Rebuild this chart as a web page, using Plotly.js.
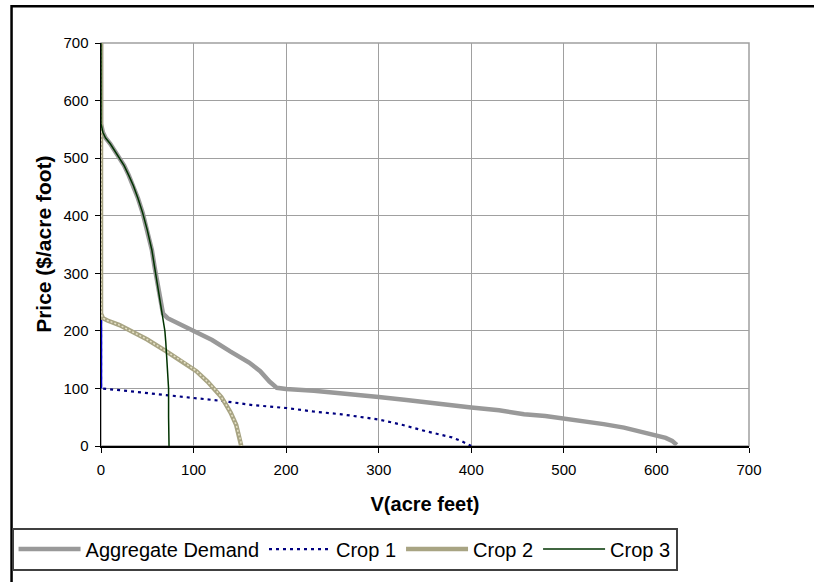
<!DOCTYPE html>
<html>
<head>
<meta charset="utf-8">
<script src="https://cdn.plot.ly/plotly-3.0.1.min.js"></script>
<style>
  html, body { margin: 0; padding: 0; background: #ffffff; }
  #chart { width: 814px; height: 582px; }
</style>
</head>
<body>
<div id="chart"></div>
<script>
// ---- Data ----
const xTickVals = [0, 100, 200, 300, 400, 500, 600, 700];
const yTickVals = [0, 100, 200, 300, 400, 500, 600, 700];

const aggV = [0, 0, 2, 5, 10, 15, 20, 25, 30, 35, 40, 45, 50, 55, 58, 61, 64, 67, 72, 85, 100, 120, 140, 160, 172, 182, 190, 200, 230, 260, 300, 330, 360, 400, 430, 457, 480, 500, 520, 543, 565, 586, 600, 610, 617, 622];
const aggP = [700, 560, 545, 535, 525, 512, 500, 487, 470, 452, 430, 405, 375, 340, 310, 280, 250, 230, 222, 212, 200, 184, 164, 145, 130, 112, 101, 99, 96, 92, 85, 80, 74, 67, 62, 55, 52, 48, 43, 38, 32, 24, 19, 14, 9, 2];

const crop1V = [0, 0, 20, 50, 70, 100, 132, 164, 200, 229, 260, 300, 325, 350, 379, 390, 398, 400];
const crop1P = [230, 100, 97, 92, 89, 84, 78, 71, 66, 60, 55, 46, 37, 26, 15, 8, 2, 0];

const crop2V = [0, 0, 2, 7, 20, 32, 50, 71, 90, 103, 115, 125, 130, 135, 140, 146, 149, 151, 151.5];
const crop2P = [700, 230, 222, 218, 210, 200, 185, 164, 145, 130, 112, 95, 85, 72, 58, 37, 20, 8, 0];

const crop3V = [0, 0, 0, 2, 5, 10, 15, 20, 25, 30, 35, 40, 45, 50, 55, 58, 61, 64, 66, 68, 69, 70, 71, 72, 73, 73, 73.5];
const crop3P = [700, 600, 560, 545, 535, 525, 512, 500, 487, 470, 452, 430, 405, 375, 340, 310, 280, 250, 232, 215, 200, 180, 150, 125, 100, 50, 0];

const seriesNames = ['Aggregate Demand', 'Crop 1', 'Crop 2', 'Crop 3'];

// ---- Traces ----
const traces = [
  { x: aggV, y: aggP, name: seriesNames[0], mode: 'lines', type: 'scatter',
    line: { color: '#999999', width: 4.5 } },
  { x: crop1V, y: crop1P, name: seriesNames[1], mode: 'lines', type: 'scatter',
    line: { color: '#000080', width: 2.2, dash: '3px,4px' } },
  // the densely sampled vertical run of Crop 1 at V = 0 reads as a solid line
  { x: crop1V.slice(0, 2), y: crop1P.slice(0, 2), name: seriesNames[1], mode: 'lines', type: 'scatter',
    showlegend: false, hoverinfo: 'skip',
    line: { color: '#0000CC', width: 2.5 } },
  { x: crop2V, y: crop2P, name: seriesNames[2], mode: 'lines', type: 'scatter',
    line: { color: '#A8A483', width: 4.5 } },
  { x: crop2V, y: crop2P, name: seriesNames[2], mode: 'lines', type: 'scatter',
    showlegend: false, hoverinfo: 'skip',
    line: { color: '#E6E2C6', width: 1.5, dash: '2px,2px' } },
  { x: crop3V, y: crop3P, name: seriesNames[3], mode: 'lines', type: 'scatter',
    line: { color: '#003300', width: 1.5 } }
];

// pixel helpers for layout placement (plot area 97..749 x 43..448)
const L = 97, R = 749, T = 43, B = 448;
const px2x = p => (p - L) / (R - L);
const px2y = p => (B - p) / (B - T);

const FONT = 'Arial, "Liberation Sans", sans-serif';

const layout = {
  width: 814, height: 582,
  margin: { l: L, r: 814 - R, t: T, b: 582 - B, pad: 0 },
  paper_bgcolor: '#ffffff', plot_bgcolor: '#ffffff',
  font: { family: FONT, color: '#000000', size: 15 },
  showlegend: true,
  xaxis: {
    range: [0, 700], tickvals: xTickVals, ticktext: xTickVals.map(String),
    showgrid: true, gridcolor: '#A0A0A0', gridwidth: 1,
    zeroline: false, showline: true, linecolor: '#000000', linewidth: 1.5,
    ticks: 'outside', ticklen: 5, tickcolor: '#000000', tickwidth: 1,
    ticklabelstandoff: 4, layer: 'below traces',
    tickfont: { family: FONT, size: 15, color: '#000000' },
    title: { text: 'V(acre feet)', font: { family: FONT, size: 20, color: '#000000', weight: 'bold' }, standoff: 20 },
    fixedrange: true
  },
  yaxis: {
    range: [0, 700], tickvals: yTickVals, ticktext: yTickVals.map(String),
    showgrid: true, gridcolor: '#A0A0A0', gridwidth: 1,
    zeroline: false, showline: true, linecolor: '#000000', linewidth: 1.5,
    ticks: 'outside', ticklen: 5, tickcolor: '#000000', tickwidth: 1,
    ticklabelstandoff: 3, layer: 'below traces',
    tickfont: { family: FONT, size: 15, color: '#000000' },
    fixedrange: true
  },
  legend: {
    orientation: 'h', x: px2x(7), y: px2y(530), xanchor: 'left', yanchor: 'top',
    bordercolor: '#404040', borderwidth: 2, bgcolor: '#ffffff',
    font: { family: FONT, size: 20, color: '#000000' },
    itemwidth: 62, tracegroupgap: 0
  },
  annotations: [
    { text: '<b>Price ($/acre foot)</b>', textangle: -90, xref: 'paper', yref: 'paper',
      x: px2x(39), y: 0.5, xanchor: 'center', yanchor: 'middle', showarrow: false,
      font: { family: FONT, size: 21, color: '#000000' } }
  ],
  shapes: [
    { type: 'rect', xref: 'paper', yref: 'paper', x0: 0, x1: 1, y0: 0, y1: 1,
      line: { color: '#A0A0A0', width: 1.5 }, layer: 'below' },
    { type: 'rect', xref: 'paper', yref: 'paper', x0: px2x(7), x1: px2x(840), y0: px2y(620), y1: px2y(6),
      line: { color: '#000000', width: 2.5 }, layer: 'below' }
  ]
};

Plotly.newPlot('chart', traces, layout, { displayModeBar: false, staticPlot: true });
</script>
</body>
</html>
